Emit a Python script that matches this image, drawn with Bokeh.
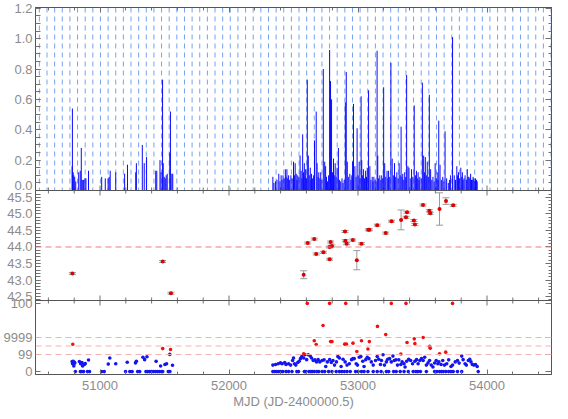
import numpy as np
from bokeh.plotting import figure
from bokeh.models import (Range1d, LinearAxis, SingleIntervalTicker, FixedTicker,
                          ColumnDataSource, Whisker, TeeHead, Span)
from bokeh.embed import file_html
from bokeh.resources import INLINE

# ---------------- data ----------------
# panel 1: light curve (MJD, rate)
lc_mjd = [50784, 50786, 50792, 50797, 50804, 50812,
          50835, 50847, 50855, 50863, 50873, 50883, 50891, 50911,
          51013, 51041, 51063, 51071, 51079, 51122,
          51191, 51213, 51277, 51282, 51328, 51343, 51361, 51432, 51440,
          51465, 51473, 51485, 51490, 51498, 51506, 51513, 51521,
          51541, 51546, 51557, 51564,
          52340, 52348, 52360, 52372, 52386, 52395, 52404, 52411, 52419, 52428,
          52437, 52443, 52449, 52455, 52462, 52470, 52480, 52490, 52500, 52507,
          52513, 52521, 52527, 52533, 52542, 52551, 52559, 52565, 52571, 52578,
          52584, 52589, 52594, 52600, 52607, 52615, 52622, 52630, 52635, 52640,
          52648, 52656, 52663, 52676, 52683, 52690, 52696, 52704, 52711, 52720,
          52731, 52742, 52749, 52756, 52764, 52772, 52780, 52787, 52795, 52802,
          52810, 52816, 52823, 52830, 52838, 52848, 52856, 52866, 52876, 52884,
          52893, 52902, 52909, 52917, 52925, 52937, 52945, 52952, 52958, 52965,
          52976, 52985, 52993, 53001, 53009, 53016, 53024, 53029, 53036, 53042,
          53050, 53059, 53066, 53072, 53082, 53092, 53100, 53110, 53116, 53123,
          53132, 53140, 53148, 53153, 53160, 53169, 53177, 53184, 53192, 53199,
          53207, 53215, 53225, 53231, 53237, 53246, 53255, 53265, 53274, 53283,
          53292, 53301, 53310, 53319, 53327, 53334, 53341, 53347, 53355, 53362,
          53370, 53377, 53387, 53395, 53405, 53415, 53425, 53436, 53445, 53453,
          53460, 53466, 53473, 53479, 53490, 53499, 53509, 53515, 53522, 53530,
          53537, 53545, 53553, 53563, 53572, 53581, 53590, 53598, 53606, 53614,
          53620, 53626, 53636, 53646, 53657, 53666, 53675, 53687, 53700, 53710,
          53718, 53733, 53746, 53756, 53766, 53772, 53779, 53788, 53797, 53804,
          53809, 53815, 53822, 53830, 53840, 53847, 53854, 53860, 53867, 53873,
          53880, 53886, 53892, 53898, 53905, 53911, 53918, 53924]
lc_rate = [0.16, 0.54, 0.12, 0.10, 0.09, 0.06,
           0.12, 0.13, 0.28, 0.07, 0.07, 0.08, 0.08, 0.13,
           0.09, 0.08, 0.08, 0.09, 0.13, 0.12,
           0.11, 0.17, 0.12, 0.18, 0.30, 0.18, 0.22, 0.13, 0.13,
           0.20, 0.12, 0.73, 0.18, 0.09, 0.08, 0.10, 0.11,
           0.25, 0.52, 0.11, 0.11,
           0.09, 0.05, 0.06, 0.07, 0.11, 0.06, 0.10, 0.07, 0.10, 0.08,
           0.14, 0.09, 0.14, 0.08, 0.10, 0.07, 0.10, 0.08, 0.19, 0.10,
           0.18, 0.11, 0.07, 0.10, 0.09, 0.23, 0.13, 0.08, 0.37, 0.12,
           0.18, 0.09, 0.14, 0.08, 0.73, 0.23, 0.10, 0.15, 0.07, 0.11,
           0.08, 0.10, 0.33, 0.52, 0.18, 0.09, 0.12, 0.08, 0.12, 0.07,
           0.80, 0.19, 0.16, 0.09, 0.06, 0.10, 0.925, 0.72, 0.60, 0.12,
           0.21, 0.10, 0.18, 0.09, 0.15, 0.28, 0.07, 0.06, 0.08, 0.05,
           0.07, 0.58, 0.78, 0.19, 0.09, 0.11, 0.07, 0.10, 0.19, 0.57,
           0.16, 0.09, 0.41, 0.10, 0.19, 0.08, 0.62, 0.20, 0.10, 0.14,
           0.08, 0.13, 0.09, 0.15, 0.66, 0.16, 0.07, 0.09, 0.06, 0.09,
           0.07, 0.06, 0.92, 0.23, 0.08, 0.10, 0.07, 0.10, 0.08, 0.68,
           0.18, 0.09, 0.13, 0.08, 0.13, 0.09, 0.84, 0.21, 0.10, 0.18,
           0.09, 0.12, 0.08, 0.18, 0.10, 0.42, 0.09, 0.11, 0.07, 0.12,
           0.09, 0.76, 0.16, 0.15, 0.08, 0.14, 0.09, 0.56, 0.10, 0.13,
           0.08, 0.12, 0.07, 0.09, 0.08, 0.71, 0.23, 0.12, 0.22, 0.10,
           0.19, 0.09, 0.63, 0.14, 0.07, 0.09, 0.06, 0.18, 0.08, 0.12,
           0.07, 0.46, 0.17, 0.07, 0.09, 0.06, 0.39, 0.08, 0.05, 0.07,
           0.10, 1.01, 0.10, 0.07, 0.16, 0.10, 0.12, 0.08, 0.15, 0.09,
           0.12, 0.07, 0.08, 0.10, 0.07, 0.14, 0.09, 0.09, 0.08, 0.11,
           0.07, 0.07, 0.09, 0.08, 0.06, 0.08, 0.07, 0.06]

# periodic reference epochs (dashed blue lines)
epoch0 = 50530.0
period = 59.2

# panel 2: log luminosity with errors
lum_mjd = [50786, 51486, 51550, 52579, 52610, 52661, 52676, 52732, 52780, 52780,
           52788, 52798, 52899, 52902, 52912, 52960, 52991, 53027, 53080, 53088,
           53149, 53215, 53260, 53334, 53372, 53380, 53433, 53441, 53504, 53553,
           53560, 53632, 53682, 53738]
lum_val = [43.20, 43.56, 42.60, 43.16, 44.12, 44.24, 43.79, 43.84, 43.63, 44.00,
           44.15, 44.03, 44.47, 44.19, 44.10, 44.21, 43.60, 44.10, 44.52, 44.52,
           44.66, 44.42, 44.78, 44.82, 44.90, 45.05, 44.80, 44.68, 45.27, 45.10,
           45.02, 45.15, 45.39, 45.26]
lum_err = [0.03, 0.03, 0.03, 0.12, 0.03, 0.03, 0.03, 0.03, 0.03, 0.03,
           0.03, 0.03, 0.03, 0.03, 0.03, 0.03, 0.29, 0.03, 0.03, 0.03,
           0.03, 0.03, 0.03, 0.30, 0.03, 0.03, 0.03, 0.03, 0.03, 0.03,
           0.03, 0.49, 0.10, 0.03]
lum_ref = 44.0

# tick values / labels
rate_ticks = [0.2, 0.4, 0.6, 0.8, 1.0, 1.2]
rate_labels = ["0.2", "0.4", "0.6", "0.8", "1.0", "1.2"]
lum_ticks = [42.5, 43.0, 43.5, 44.0, 44.5, 45.0, 45.5]
lum_labels = ["42.5", "43.0", "43.5", "44.0", "44.5", "45.0", "45.5"]
level_ticks = [0, 1, 2, 4]          # 0 -> "0", 1 -> "99", 2 -> "9999", 4 -> "100"
level_labels = ["0", "99", "9999", "100"]
level_lines = [1.0, 1.5, 2.0]

blue_mjd = [50784, 50787, 50792, 50797, 50802, 50804, 50840, 50850, 50860, 50865,
            50878, 50886, 50911, 51064, 51076, 51122, 51211, 51275, 51282, 51333,
            51346, 51364, 51435, 51470, 51503, 51516, 51541, 51562,
            50809, 50848, 50860, 50873, 50903, 50919, 51013, 51033, 51198, 51231,
            51249, 51292, 51308, 51356, 51369, 51384, 51399, 51414, 51430, 51445,
            51460, 51475, 51486, 51529, 51542,
            52340, 52361, 52381, 52399, 52412, 52432, 52442, 52462, 52478, 52493,
            52500, 52508, 52518, 52533, 52544, 52554, 52564, 52579, 52589, 52602,
            52615, 52630, 52640, 52653, 52666, 52678, 52691, 52704, 52722, 52737,
            52750, 52762, 52780, 52793, 52806, 52818, 52833, 52844, 52856, 52869,
            52884, 52900, 52915, 52933, 52950, 52961, 52971, 52986, 52996, 53009,
            53022, 53037, 53047, 53060, 53072, 53085, 53103, 53118, 53136, 53149,
            53161, 53174, 53182, 53194, 53205, 53220, 53230, 53245, 53258, 53271,
            53281, 53294, 53306, 53316, 53332, 53342, 53357, 53365, 53377, 53393,
            53408, 53423, 53441, 53454, 53466, 53479, 53492, 53505, 53517, 53530,
            53543, 53555, 53568, 53581, 53594, 53606, 53619, 53627, 53644, 53657,
            53670, 53688, 53703, 53721, 53733, 53754, 53771, 53784, 53804, 53815,
            53830, 53840, 53855, 53866, 53876, 53886, 53899, 53911, 53924,
            52340, 52356, 52371, 52386, 52401, 52417, 52442, 52462, 52488, 52526,
            52539, 52584, 52595, 52620, 52635, 52645, 52661, 52681, 52696, 52722,
            52742, 52772, 52798, 52831, 52856, 52874, 52894, 52915, 52940, 52981,
            53001, 53027, 53047, 53077, 53118, 53149, 53179, 53220, 53238, 53276,
            53296, 53327, 53357, 53390, 53428, 53449, 53464, 53484, 53530, 53594,
            53611, 53632, 53647, 53662, 53682, 53703, 53721, 53738, 53771, 53804,
            53932]
blue_val = [0.59, 0.46, 0.61, 0.33, 0.55, 0.49, 0.59, 0.46, 0.53, 0.33,
            0.42, 0.47, 0.68, 0.44, 0.80, 0.46, 0.55, 0.51, 0.60, 0.84,
            0.70, 0.87, 0.60, 0.33, 0.42, 0.46, 1.01, 0.37,
            0, 0, 0, 0, 0, 0, 0, 0, 0, 0,
            0, 0, 0, 0, 0, 0, 0, 0, 0, 0,
            0, 0, 0, 0, 0,
            0.38, 0.42, 0.46, 0.51, 0.46, 0.53, 0.42, 0.46, 0.38, 0.65,
            0.80, 0.46, 0.38, 0.53, 0.61, 0.76, 0.88, 0.80, 0.99, 0.70,
            0.99, 0.91, 0.80, 0.65, 0.69, 0.57, 0.70, 0.57, 0.65, 0.69,
            0.30, 0.57, 0.70, 0.53, 0.65, 0.38, 0.57, 0.88, 0.80, 0.30,
            0.72, 0.57, 0.38, 0.46, 0.70, 0.76, 0.76, 0.46, 0.38, 0.84,
            0.88, 0.61, 0.30, 0.70, 0.84, 0.76, 0.57, 0.38, 0.65, 0.88,
            0.72, 0.42, 0.65, 0.99, 0.38, 0.57, 0.72, 0.76, 0.57, 0.91,
            0.65, 0.69, 0.38, 0.69, 0.42, 0.57, 0.46, 0.27, 0.61, 0.72,
            0.65, 0.46, 0.61, 0.70, 0.46, 0.65, 0.76, 0.65, 0.84, 0.38,
            0.51, 0.65, 0.38, 0.27, 0.50, 0.65, 0.46, 0.57, 0.42, 0.65,
            0.38, 0.46, 0.69, 0.30, 0.38, 0.57, 0.65, 0.50, 0.91, 0.70,
            0.46, 0.38, 0.65, 0.72, 0.57, 0.42, 0.38, 0.42, 0.30,
            0, 0, 0, 0, 0, 0, 0, 0, 0, 0,
            0, 0, 0, 0, 0, 0, 0, 0, 0, 0,
            0, 0, 0, 0, 0, 0, 0, 0, 0, 0,
            0, 0, 0, 0, 0, 0, 0, 0, 0, 0,
            0, 0, 0, 0, 0, 0, 0, 0, 0, 0,
            0, 0, 0, 0, 0, 0, 0, 0, 0, 0,
            0]

red_mjd = [50789, 51486, 51547, 52579, 52607, 52661, 52676, 52729, 52780, 52788,
           52798, 52897, 52905, 52910, 52961, 52991, 53027, 53077, 53088, 53151,
           53215, 53258, 53332, 53372, 53380, 53436, 53441, 53505, 53555, 53560,
           53632, 53680, 53733]
red_val = [1.60, 1.35, 1.30, 1.05, 4.0, 1.81, 1.59, 2.70, 4.0, 1.76,
           1.76, 1.61, 4.0, 1.61, 1.67, 1.18, 1.81, 1.33, 1.76, 2.65,
           2.17, 4.0, 1.03, 4.0, 1.71, 1.92, 1.64, 2.0, 1.49, 1.37,
           1.05, 1.14, 4.0]

x_label = "MJD (JD-2400000.5)"

# ---------------- layout / style ----------------
FONT = "Liberation Sans"
LABC = "#8c8c8c"
AXC = "#555555"
TICKC = "#707070"
X0, X1 = 50500, 54500
FW, FH = 516, 367          # frame size in px
B3, B2 = 74, 184           # panel boundaries (px from frame bottom)
R1 = (0.0, 1.205)          # panel 1 value range
R2 = (42.38, 45.71)        # panel 2 value range
R3 = (-0.17, 4.17)         # panel 3 value range
P1 = (B2, FH)
P2 = (B3, B2)
P3 = (0, B3)


def extra_range(r, band):
    lo, hi = r
    b0, b1 = band
    k = (hi - lo) / (b1 - b0)
    return Range1d(start=lo - b0 * k, end=lo + (FH - b0) * k)


def to_u(v, r, band):
    lo, hi = r
    b0, b1 = band
    return round(b0 + (v - lo) * (b1 - b0) / (hi - lo), 3)


p = figure(frame_width=FW, frame_height=FH, x_range=Range1d(X0, X1), y_range=Range1d(0, FH),
           output_backend="svg", toolbar_location=None)
p.extra_y_ranges = {"rate": extra_range(R1, P1), "lum": extra_range(R2, P2),
                    "lev": extra_range(R3, P3)}
p.min_border_left = 33
p.min_border_right = 3
p.min_border_top = 7
p.min_border_bottom = 0
p.xgrid.visible = False
p.ygrid.visible = False
p.outline_line_color = AXC
p.background_fill_color = "white"
p.border_fill_color = "white"

# --- bottom / top x axes
xa = p.below[0]
xa.ticker = SingleIntervalTicker(interval=1000, num_minor_ticks=5)
xa.axis_line_color = AXC
xa.major_tick_line_color = TICKC
xa.minor_tick_line_color = TICKC
xa.major_tick_in, xa.major_tick_out = 5, 0
xa.minor_tick_in, xa.minor_tick_out = 3, 0
xa.major_label_text_font = FONT
xa.major_label_text_font_size = "13px"
xa.major_label_text_color = LABC
xa.major_label_standoff = 6
xa.axis_label = x_label
xa.axis_label_text_font = FONT
xa.axis_label_text_font_size = "13px"
xa.axis_label_text_font_style = "normal"
xa.axis_label_text_color = LABC
xa.axis_label_standoff = 1

xt = LinearAxis(ticker=SingleIntervalTicker(interval=1000, num_minor_ticks=5))
xt.axis_line_color = AXC
xt.major_tick_line_color = TICKC
xt.minor_tick_line_color = TICKC
xt.major_tick_in, xt.major_tick_out = 5, 0
xt.minor_tick_in, xt.minor_tick_out = 3, 0
xt.major_label_text_font_size = "0px"
xt.major_label_standoff = 0
xt.major_label_text_color = None
p.add_layout(xt, "above")

# --- y tick positions in frame pixels
lab_pos, lab_txt = [], []
lab_pos.append(float(B2 + 5)); lab_txt.append("0.0")
for v, s in zip(rate_ticks, rate_labels):
    lab_pos.append(to_u(v, R1, P1)); lab_txt.append(s)
for v, s in zip(lum_ticks, lum_labels):
    lab_pos.append(to_u(v, R2, P2)); lab_txt.append(s)
for v, s in zip(level_ticks, level_labels):
    lab_pos.append(to_u(v, R3, P3)); lab_txt.append(s)

major_marks = ([to_u(v, R1, P1) for v in rate_ticks] +
               [to_u(v, R2, P2) for v in lum_ticks] +
               [to_u(v, R3, P3) for v in level_ticks])
minor_marks = ([to_u(v, R1, P1) for v in np.arange(0.05, 1.2001, 0.05)] +
               [to_u(v, R2, P2) for v in np.arange(42.4, 45.701, 0.1)])

ya = p.left[0]
ya.ticker = FixedTicker(ticks=lab_pos, minor_ticks=major_marks + minor_marks)
ya.major_label_overrides = {u: s for u, s in zip(lab_pos, lab_txt)}
ya.axis_line_color = AXC
ya.major_tick_line_color = None
ya.major_tick_in, ya.major_tick_out = 0, 0
ya.minor_tick_line_color = TICKC
ya.minor_tick_in, ya.minor_tick_out = 5, 0
ya.major_label_text_font = FONT
ya.major_label_text_font_size = "13px"
ya.major_label_text_color = LABC
ya.major_label_standoff = 3

yr = LinearAxis(ticker=FixedTicker(ticks=major_marks, minor_ticks=minor_marks))
yr.axis_line_color = AXC
yr.major_tick_line_color = TICKC
yr.minor_tick_line_color = TICKC
yr.major_tick_in, yr.major_tick_out = 6, 0
yr.minor_tick_in, yr.minor_tick_out = 3, 0
yr.major_label_text_font_size = "0px"
yr.major_label_standoff = 0
yr.major_label_text_color = None
p.add_layout(yr, "right")

# --- panel boundaries with inward x ticks on both sides
for b in (B3, B2):
    p.add_layout(Span(location=b, dimension="width", line_color=AXC, line_width=1))
xmaj = [51000, 52000, 53000, 54000]
xmin = [t for t in range(50600, 54500, 200) if t % 1000 != 0]
tx, ty0, ty1 = [], [], []
for b in (B3, B2):
    for t in xmaj:
        tx += [t, t]; ty0 += [b, b]; ty1 += [b + 5, b - 5]
    for t in xmin:
        tx += [t, t]; ty0 += [b, b]; ty1 += [b + 3, b - 3]
p.segment(x0=tx, y0=ty0, x1=tx, y1=ty1, line_color=TICKC, line_width=1)

# ---------------- panel 1 ----------------
ep = epoch0 + period * np.arange(0, 68)
ep = ep[ep < X1]
p.segment(x0=ep, y0=[R1[1]] * len(ep), x1=ep, y1=[0] * len(ep), y_range_name="rate",
          line_color="#74a2f0", line_width=1, line_dash="5 4")
p.segment(x0=lc_mjd, y0=[0] * len(lc_mjd), x1=lc_mjd, y1=lc_rate, y_range_name="rate",
          line_color="#0a0aff", line_width=1)

# ---------------- panel 2 ----------------
p.add_layout(Span(location=lum_ref, dimension="width", y_range_name="lum",
                  line_color="#f07c7c", line_width=1, line_dash="6 4"))
lsrc = ColumnDataSource(dict(x=lum_mjd, y=lum_val,
                             lo=[v - e for v, e in zip(lum_val, lum_err)],
                             hi=[v + e for v, e in zip(lum_val, lum_err)]))
wk = Whisker(source=lsrc, base="x", upper="hi", lower="lo", dimension="height",
             y_range_name="lum", line_color="#9a9a9a", line_width=1,
             upper_head=TeeHead(size=7, line_color="#9a9a9a", line_width=1),
             lower_head=TeeHead(size=7, line_color="#9a9a9a", line_width=1))
p.add_layout(wk)
p.scatter("x", "y", source=lsrc, y_range_name="lum", marker="circle", size=4,
          fill_color="#e00000", line_color=None)

# ---------------- panel 3 ----------------
for lv in level_lines:
    p.add_layout(Span(location=lv, dimension="width", y_range_name="lev",
                      line_color="#f6b0b0", line_width=1, line_dash="6 4"))
p.scatter(blue_mjd, blue_val, y_range_name="lev", marker="circle", size=3.6,
          fill_color="#1515f0", line_color=None)
p.scatter(red_mjd, red_val, y_range_name="lev", marker="circle", size=3.6,
          fill_color="#f01010", line_color=None)

open("out.html", "w").write(file_html(p, INLINE))
